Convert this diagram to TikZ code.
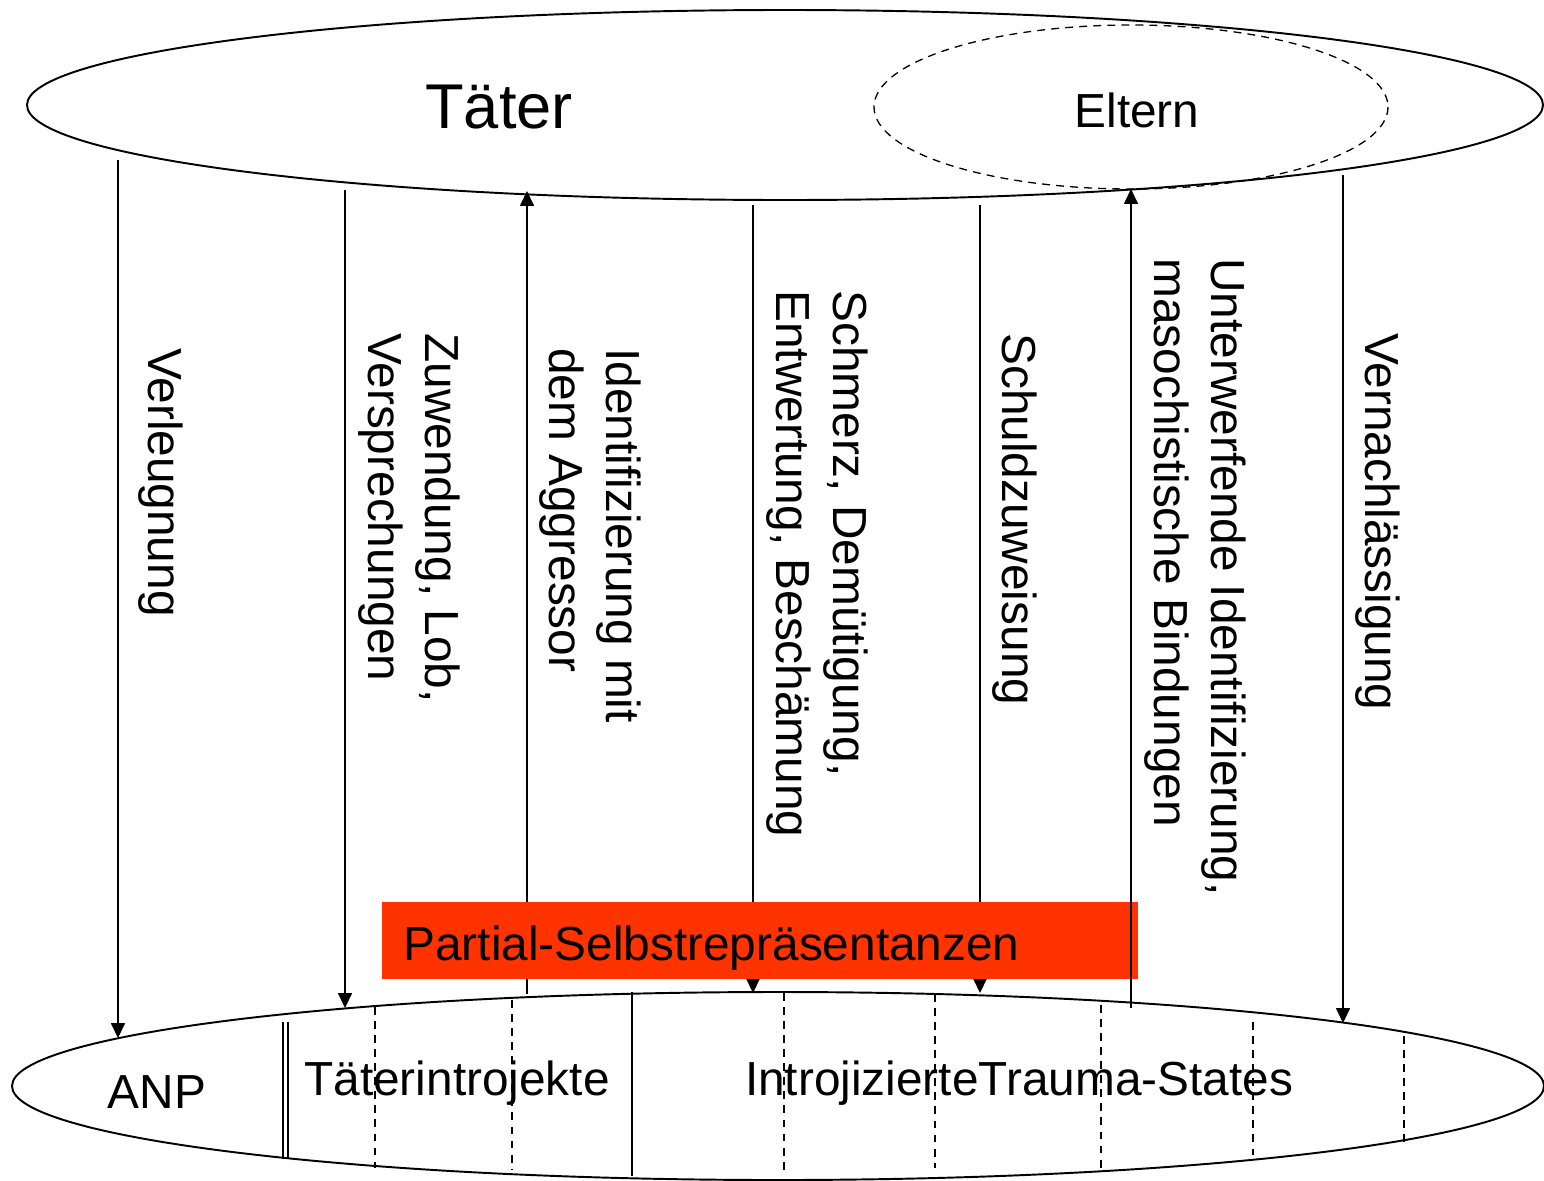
\documentclass[tikz,border=0pt]{standalone}
\usepackage{fontspec}
\setmainfont{Liberation Sans}
\usetikzlibrary{arrows.meta}
\definecolor{boxred}{RGB}{255,51,0}
\tikzset{
  outline/.style={line width=1.1pt},
  arr/.style={line width=0.75pt,-{Triangle[length=8.5pt,width=8pt]}},
  plain/.style={line width=0.75pt},
  divdash/.style={line width=0.75pt,dash pattern=on 4.5pt off 3.5pt},
  lbl/.style={inner sep=0pt,font=\fontsize{27.2}{32.6}\selectfont},
  vlbl/.style={lbl,rotate=-90,anchor=west,align=left},
}
\begin{document}
\begin{tikzpicture}[x=0.02cm,y=-0.02cm]
\useasboundingbox (0,0) rectangle (1544,1180);
% ellipses
\draw[outline] (785,105) ellipse [x radius=758,y radius=95];
\draw[divdash] (1131,107) ellipse [x radius=257,y radius=82];
\draw[outline] (778,1086) ellipse [x radius=766,y radius=94];
% top labels
\node[lbl,anchor=base,font=\fontsize{36}{43}\selectfont] (taeter) at (499,128) {Täter};
\node[lbl,anchor=base] (eltern) at (1137,127) {Eltern};
% bottom dividers
\coordinate (d0t) at (283,1022); \coordinate (d0b) at (283,1159);
\coordinate (d0t') at (288,1022); \coordinate (d0b') at (288,1159);
\draw[plain] (d0t) -- (d0b);
\draw[plain] (d0t') -- (d0b');
\foreach \x/\a/\b [count=\i] in {375/1007/1168, 512/1000/1170, 784/993/1170, 935/994/1168, 1101/1005/1168, 1253/1022/1155, 1404/1036/1142}{
  \coordinate (dt\i) at (\x,\a); \coordinate (db\i) at (\x,\b);
  \draw[divdash] (dt\i) -- (db\i);
}
\coordinate (ds) at (632,992); \coordinate (de) at (632,1176);
\draw[plain] (ds) -- (de);
% bottom labels
\node[lbl,anchor=base] (anp) at (157,1108) {ANP};
\node[lbl,anchor=base] (ti) at (457,1095) {Täterintrojekte};
\node[lbl,anchor=base] (its) at (1019,1095) {IntrojizierteTrauma-States};
% arrows
\coordinate (a1s) at (118,160);  \coordinate (a1e) at (118,1038);
\coordinate (a2s) at (345,190);  \coordinate (a2e) at (345,1008);
\coordinate (a3s) at (527,994);  \coordinate (a3e) at (527,191);
\coordinate (a4s) at (753,205);  \coordinate (a4e) at (753,993);
\coordinate (a5s) at (980,205);  \coordinate (a5e) at (980,993);
\coordinate (a6s) at (1131,1008); \coordinate (a6e) at (1131,189);
\coordinate (a7s) at (1343,175); \coordinate (a7e) at (1343,1023);
\draw[arr] (a1s) -- (a1e);
\draw[arr] (a2s) -- (a2e);
\draw[arr] (a3s) -- (a3e);
\draw[arr] (a4s) -- (a4e);
\draw[arr] (a5s) -- (a5e);
\draw[arr] (a7s) -- (a7e);
% red box
\fill[boxred] (382,902) rectangle (1138,979);
\node[lbl,anchor=base west] (psr) at (403,960) {Partial-Selbstrepräsentanzen};
\draw[arr] (a6s) -- (a6e);
% vertical labels
\node[vlbl] (v1) at (161,348) {Verleugnung};
\node[vlbl] (v2) at (409,333) {Zuwendung, Lob,\\Versprechungen};
\node[vlbl] (v3) at (590,348) {Identifizierung mit\\dem Aggressor};
\node[vlbl] (v4) at (817,290) {Schmerz, Demütigung,\\Entwertung, Beschämung};
\node[vlbl] (v5) at (1015,333) {Schuldzuweisung};
\node[vlbl] (v6) at (1195,258) {Unterwerfende Identifizierung,\\masochistische Bindungen};
\node[vlbl] (v7) at (1378,333) {Vernachlässigung};
\end{tikzpicture}
\end{document}
